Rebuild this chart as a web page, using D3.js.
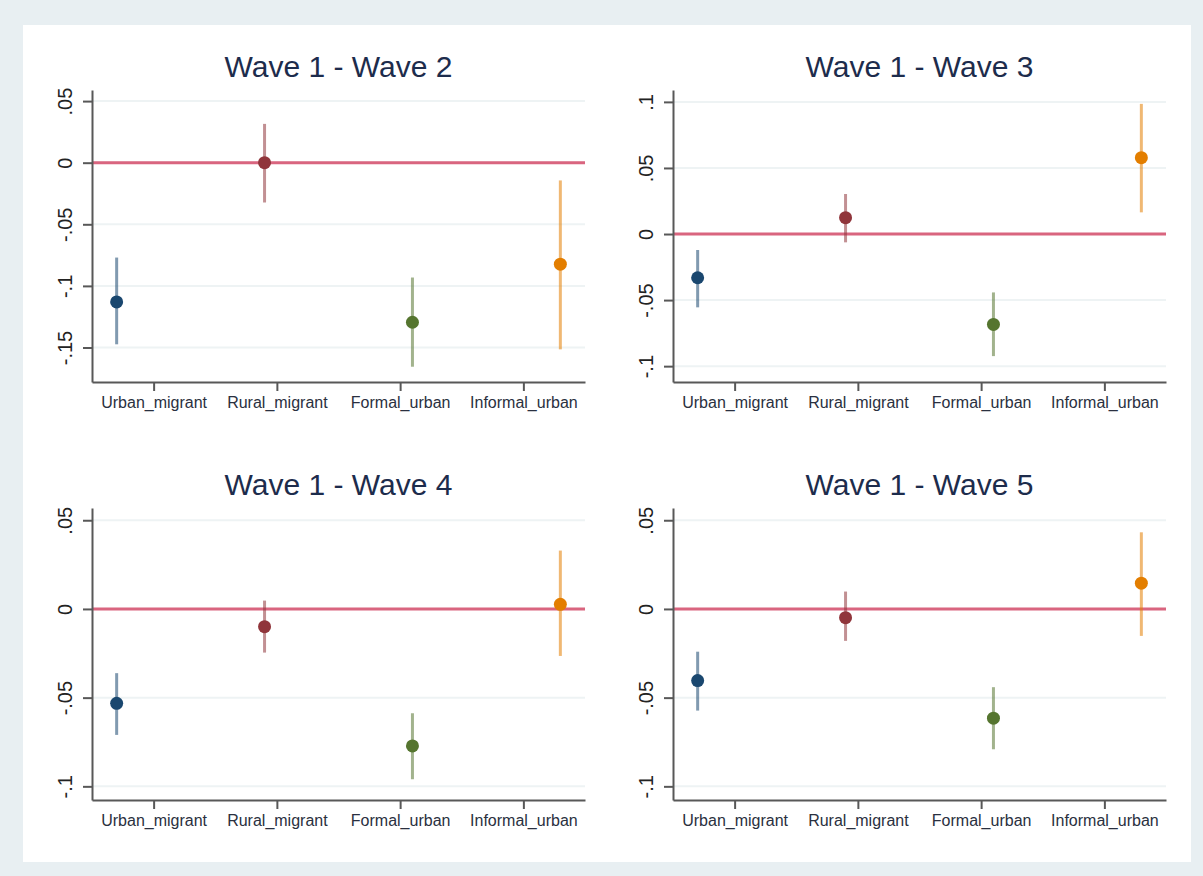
<!DOCTYPE html>
<html>
<head>
<meta charset="utf-8">
<script src="https://cdn.jsdelivr.net/npm/d3@7"></script>
<style>
  body { margin: 0; background: #e8eff2; }
  svg { display: block; }
  text { font-family: "Liberation Sans", Arial, Helvetica, sans-serif; }
</style>
</head>
<body>
<div id="chart"></div>
<script>
// categories on the x axis (one coefficient per group)
var categories = ["Urban_migrant", "Rural_migrant", "Formal_urban", "Informal_urban"];
var titles = ["Wave 1 - Wave 2", "Wave 1 - Wave 3", "Wave 1 - Wave 4", "Wave 1 - Wave 5"];

// point estimates and 95% CI bounds
var est_w2 = [-0.113, 0.000, -0.1295, -0.0824];
var lo_w2  = [-0.1474, -0.0323, -0.1656, -0.1515];
var hi_w2  = [-0.077, 0.0315, -0.0932, -0.0144];

var est_w3 = [-0.0331, 0.0124, -0.0684, 0.0578];
var lo_w3  = [-0.0555, -0.0063, -0.0924, 0.0164];
var hi_w3  = [-0.0121, 0.0303, -0.0442, 0.0985];

var est_w4 = [-0.0532, -0.010, -0.0772, 0.0026];
var lo_w4  = [-0.071, -0.0246, -0.096, -0.0265];
var hi_w4  = [-0.0362, 0.0047, -0.0588, 0.0329];

var est_w5 = [-0.0404, -0.0049, -0.0616, 0.0145];
var lo_w5  = [-0.0573, -0.018, -0.0791, -0.0152];
var hi_w5  = [-0.0241, 0.0098, -0.0441, 0.0432];

// y ticks for each panel
var ticks_w2 = [0.05, 0, -0.05, -0.1, -0.15];
var tickLabels_w2 = [".05", "0", "-.05", "-.1", "-.15"];
var ticks_w3 = [0.1, 0.05, 0, -0.05, -0.1];
var tickLabels_w3 = [".1", ".05", "0", "-.05", "-.1"];
var ticks_w4 = [0.05, 0, -0.05, -0.1];
var tickLabels_w4 = [".05", "0", "-.05", "-.1"];
var ticks_w5 = [0.05, 0, -0.05, -0.1];
var tickLabels_w5 = [".05", "0", "-.05", "-.1"];

var panels = [
    {title: titles[0], est: est_w2, lo: lo_w2, hi: hi_w2, ticks: ticks_w2, labels: tickLabels_w2, dom: [-0.178, 0.059], left: 92, top: 90},
    {title: titles[1], est: est_w3, lo: lo_w3, hi: hi_w3, ticks: ticks_w3, labels: tickLabels_w3, dom: [-0.112, 0.109], left: 673, top: 90},
    {title: titles[2], est: est_w4, lo: lo_w4, hi: hi_w4, ticks: ticks_w4, labels: tickLabels_w4, dom: [-0.1077, 0.0569], left: 92, top: 508},
    {title: titles[3], est: est_w5, lo: lo_w5, hi: hi_w5, ticks: ticks_w5, labels: tickLabels_w5, dom: [-0.1077, 0.0569], left: 673, top: 508}
];

var colors = ["#1a476f", "#90353b", "#55752f", "#e37e00"];
var offsets = [-0.3, -0.1, 0.1, 0.3];

var W = 1203, H = 876;
var pw = 493, ph = 292;

var svg = d3.select("#chart").append("svg")
    .attr("width", W)
    .attr("height", H);

svg.append("rect")
    .attr("x", 23).attr("y", 25)
    .attr("width", 1168).attr("height", 837)
    .attr("fill", "#ffffff");

var x = d3.scaleLinear().domain([0.5, 4.5]).range([0, pw]);

panels.forEach(function(p) {
    var g = svg.append("g").attr("transform", "translate(" + p.left + "," + p.top + ")");
    var y = d3.scaleLinear().domain(p.dom).range([ph, 0]);

    // title
    g.append("text")
        .attr("x", pw / 2)
        .attr("y", -13)
        .attr("text-anchor", "middle")
        .attr("font-size", 30)
        .attr("fill", "#1d2c4c")
        .text(p.title);

    // grid
    g.selectAll(".grid")
        .data(p.ticks)
        .enter().append("line")
        .attr("x1", 0).attr("x2", pw)
        .attr("y1", function(d) { return y(d); })
        .attr("y2", function(d) { return y(d); })
        .attr("stroke", "#eef3f4")
        .attr("stroke-width", 2);

    // zero reference line
    g.append("line")
        .attr("x1", 0).attr("x2", pw)
        .attr("y1", y(0)).attr("y2", y(0))
        .attr("stroke", "#d9657f")
        .attr("stroke-width", 3);

    // y axis
    var ya = g.append("g")
        .call(d3.axisLeft(y)
            .tickValues(p.ticks)
            .tickFormat(function(d, i) { return p.labels[i]; })
            .tickSize(9)
            .tickSizeOuter(0));
    ya.select(".domain").attr("stroke", "#585858").attr("stroke-width", 2);
    ya.selectAll(".tick line").attr("stroke", "#585858").attr("stroke-width", 2);
    ya.selectAll(".tick text")
        .attr("transform", "rotate(-90)")
        .attr("x", 0)
        .attr("y", -20)
        .attr("dy", 0)
        .attr("text-anchor", "middle")
        .attr("font-size", 20)
        .attr("fill", "#222");

    // x axis
    var xa = g.append("g")
        .attr("transform", "translate(0," + ph + ")")
        .call(d3.axisBottom(x)
            .tickValues([1, 2, 3, 4])
            .tickFormat(function(d) { return categories[d - 1]; })
            .tickSize(9)
            .tickPadding(6)
            .tickSizeOuter(0));
    xa.select(".domain").attr("stroke", "#585858").attr("stroke-width", 2);
    xa.selectAll(".tick line").attr("stroke", "#585858").attr("stroke-width", 2);
    xa.selectAll(".tick text")
        .attr("font-size", 16)
        .attr("fill", "#2a3040");

    // CIs and points
    var pts = g.selectAll(".coef")
        .data(p.est.map(function(e, i) { return {e: e, lo: p.lo[i], hi: p.hi[i], i: i}; }))
        .enter().append("g")
        .attr("class", "coef");

    pts.append("line")
        .attr("x1", function(d) { return x(d.i + 1 + offsets[d.i]); })
        .attr("x2", function(d) { return x(d.i + 1 + offsets[d.i]); })
        .attr("y1", function(d) { return y(d.lo); })
        .attr("y2", function(d) { return y(d.hi); })
        .attr("stroke", function(d) { return colors[d.i]; })
        .attr("stroke-opacity", 0.55)
        .attr("stroke-width", 3);

    pts.append("circle")
        .attr("cx", function(d) { return x(d.i + 1 + offsets[d.i]); })
        .attr("cy", function(d) { return y(d.e); })
        .attr("r", 6.5)
        .attr("fill", function(d) { return colors[d.i]; });
});
</script>
</body>
</html>
